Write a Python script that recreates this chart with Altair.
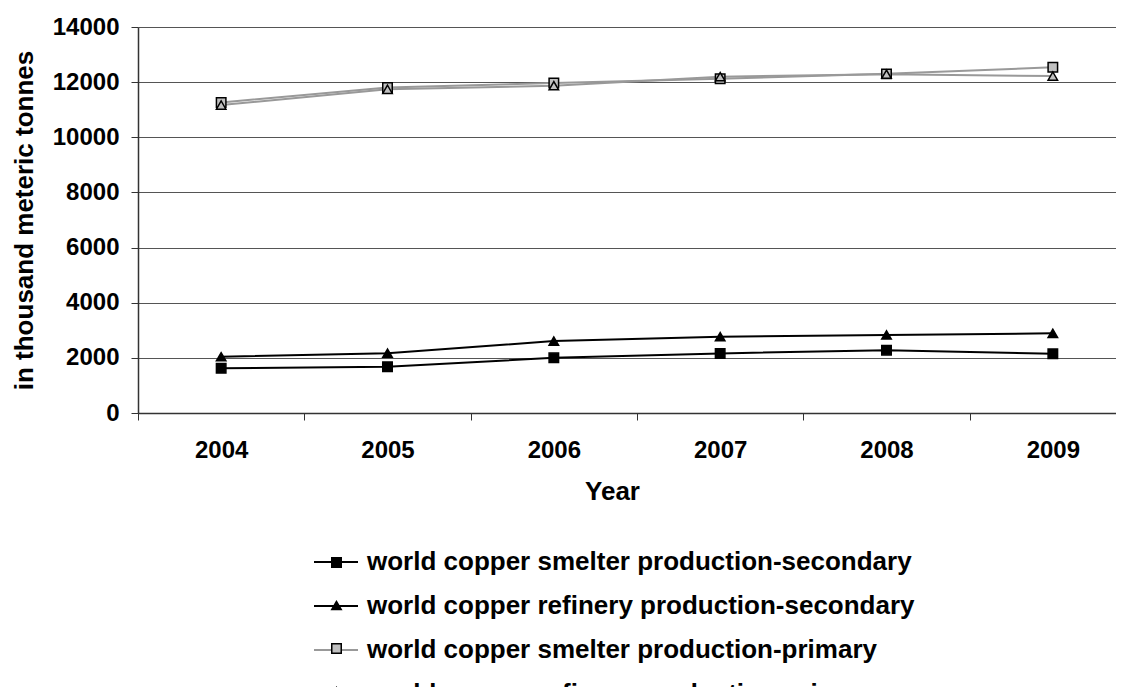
import altair as alt
import pandas as pd

years = ["2004", "2005", "2006", "2007", "2008", "2009"]
series_names = [
    "world copper smelter production-secondary",
    "world copper refinery production-secondary",
    "world copper smelter production-primary",
    "world copper refinery production-primary",
]
smelter_secondary = [1620, 1680, 2000, 2160, 2280, 2150]
refinery_secondary = [2040, 2170, 2610, 2770, 2830, 2890]
smelter_primary = [11260, 11810, 11970, 12120, 12300, 12540]
refinery_primary = [11170, 11740, 11870, 12200, 12290, 12220]
y_ticks = [0, 2000, 4000, 6000, 8000, 10000, 12000, 14000]

line_colors = ["#000000", "#000000", "#999999", "#999999"]
line_widths = [2, 2, 2.5, 2.5]
marker_fills = ["#000000", "#000000", "#c0c0c0", "#c0c0c0"]
marker_strokes = ["#000000", "#000000", "#000000", "#000000"]
marker_shapes = ["square", "triangle-up", "square", "triangle-up"]

rows = []
for name, vals in zip(series_names, [smelter_secondary, refinery_secondary, smelter_primary, refinery_primary]):
    for yr, v in zip(years, vals):
        rows.append({"year": yr, "value": v, "series": name, "series2": name})
df = pd.DataFrame(rows)

FONT = "Liberation Sans"

x_enc = alt.X(
    "year:O",
    sort=years,
    scale=alt.Scale(range=[0, 998], paddingInner=0, paddingOuter=0),
    axis=alt.Axis(
        title="Year", labelAngle=0, tickBand="extent", tickSize=7,
        labelPadding=18, titlePadding=16, grid=False, titleX=474,
        titleFontSize=26,
    ),
)
y_enc = alt.Y(
    "value:Q",
    scale=alt.Scale(domain=[0, 14000], nice=False),
    axis=alt.Axis(
        title="in thousand meteric tonnes", values=y_ticks, format="d",
        tickSize=7, labelPadding=12, titlePadding=15, grid=True,
        gridColor="#555555", gridWidth=1, titleFontSize=26,
    ),
)

lines = alt.Chart(df).mark_line().encode(
    x=x_enc,
    y=y_enc,
    strokeWidth=alt.StrokeWidth(
        "series:N", scale=alt.Scale(domain=series_names, range=line_widths), legend=None
    ),
    color=alt.Color(
        "series:N",
        scale=alt.Scale(domain=series_names, range=line_colors),
        sort=series_names,
        legend=alt.Legend(
            title=None, orient="none", legendX=175, legendY=512, direction="vertical",
            symbolType="stroke", symbolSize=1936, symbolStrokeWidth=2,
            labelFont=FONT, labelFontSize=26, labelFontWeight="bold", labelColor="#000000",
            labelLimit=0, labelOffset=8, rowPadding=8, padding=0,
        ),
    ),
)

points = alt.Chart(df).mark_point(filled=True, size=90, strokeWidth=1.5, opacity=1).encode(
    x=x_enc,
    y=y_enc,
    shape=alt.Shape(
        "series2:N",
        scale=alt.Scale(domain=series_names, range=marker_shapes),
        sort=series_names,
        legend=alt.Legend(
            title=None, orient="none", legendX=193, legendY=530, direction="vertical",
            symbolSize=90, symbolStrokeWidth=1.5,
            labelFontSize=1, labelExpr="''", labelOffset=0,
            rowPadding=27, padding=0,
        ),
    ),
    fill=alt.Fill("series2:N", scale=alt.Scale(domain=series_names, range=marker_fills), sort=series_names),
    stroke=alt.Stroke("series2:N", scale=alt.Scale(domain=series_names, range=marker_strokes), sort=series_names),
)

chart = (
    alt.layer(lines, points)
    .resolve_scale(color="independent", shape="independent", fill="independent", stroke="independent")
    .properties(
        width=978, height=386,
        autosize=alt.AutoSizeParams(type="none"),
        padding={"left": 130, "top": 19, "right": 0, "bottom": 274},
    )
    .configure_view(stroke=None)
    .configure_axis(
        labelFont=FONT, labelFontSize=24, labelFontWeight="bold", labelColor="#000000",
        titleFont=FONT, titleFontWeight="bold", titleColor="#000000",
        domainColor="#333333", tickColor="#333333", domainWidth=1.5,
    )
)

chart.save("out.html", embed_options={"renderer": "svg", "actions": False})
